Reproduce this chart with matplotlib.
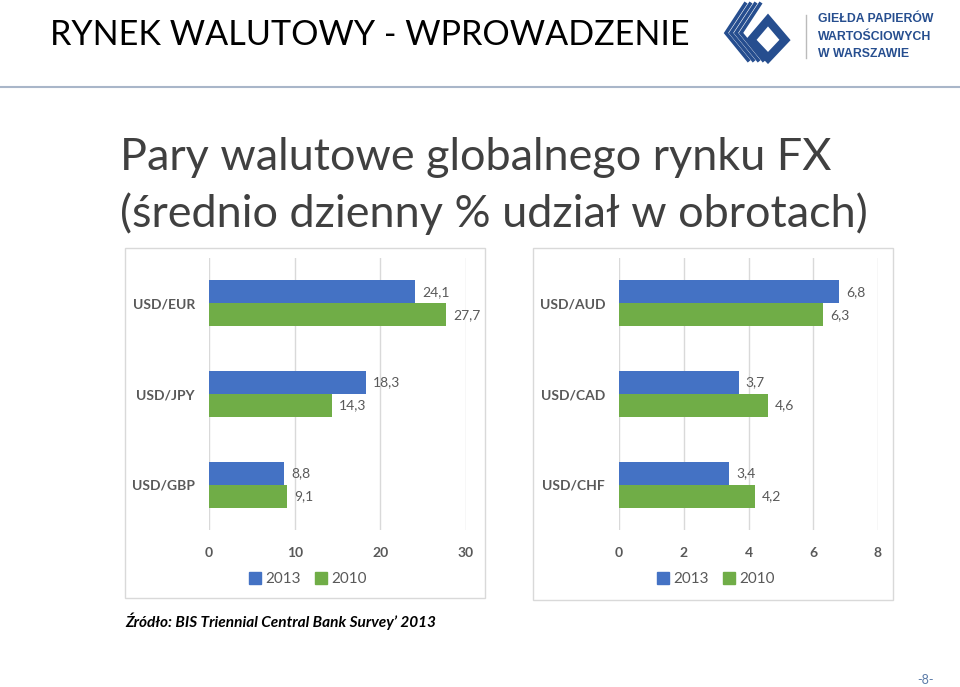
import numpy as np
import matplotlib.pyplot as plt
from matplotlib.patches import Rectangle, Polygon
from matplotlib.lines import Line2D

plt.rcParams['font.family'] = ['Lato', 'DejaVu Sans']

# Data
pairs_left = ['USD/EUR', 'USD/JPY', 'USD/GBP']
left_2013 = [24.1, 18.3, 8.8]
left_2010 = [27.7, 14.3, 9.1]

pairs_right = ['USD/AUD', 'USD/CAD', 'USD/CHF']
right_2013 = [6.8, 3.7, 3.4]
right_2010 = [6.3, 4.6, 4.2]

years = ['2013', '2010']
left_ticks = [0, 10, 20, 30]
right_ticks = [0, 2, 4, 6, 8]

BLUE = '#4472C4'
GREEN = '#70AD47'
GRAY = '#595959'
GRID = '#D9D9D9'

W, H = 960, 687


# Converts a pixel box to figure fraction coordinates.
def px_box(x0, y0, x1, y1):
    return [x0 / W, 1 - y1 / H, (x1 - x0) / W, (y1 - y0) / H]


def px(pts):
    return [(x / W, 1 - y / H) for x, y in pts]


def bar_panel(fig, box, frame, pairs, v2013, v2010, ticks, legend_x):
    # Light border around the chart.
    fig.add_artist(Rectangle((frame[0] / W, 1 - frame[3] / H),
                             (frame[2] - frame[0]) / W, (frame[3] - frame[1]) / H,
                             transform=fig.transFigure, fill=False,
                             edgecolor=GRID, linewidth=1))
    ax = fig.add_axes(px_box(*box))
    y = np.arange(len(pairs))
    h = 0.255
    ax.barh(y - h / 2, v2013, height=h, color=BLUE, label=years[0])
    ax.barh(y + h / 2, v2010, height=h, color=GREEN, label=years[1])
    for yy, a, b in zip(y, v2013, v2010):
        ax.annotate(f'{a:.1f}'.replace('.', ','), (a, yy - h / 2), xytext=(5, 0),
                    textcoords='offset points', va='center', ha='left',
                    fontsize=10, color=GRAY)
        ax.annotate(f'{b:.1f}'.replace('.', ','), (b, yy + h / 2), xytext=(5, 0),
                    textcoords='offset points', va='center', ha='left',
                    fontsize=10, color=GRAY)
    ax.set_xlim(ticks[0], ticks[-1])
    ax.set_ylim(len(pairs) - 0.5, -0.5)
    ax.set_xticks(ticks)
    ax.set_yticks(y)
    ax.set_yticklabels(pairs, fontweight='bold', color=GRAY, fontsize=10)
    ax.tick_params(axis='x', labelsize=10, labelcolor=GRAY, length=0, pad=12)
    ax.tick_params(axis='y', length=0, pad=10)
    for lab in ax.get_xticklabels():
        lab.set_fontweight('bold')
    ax.grid(axis='x', color=GRID, linewidth=1)
    ax.set_axisbelow(True)
    for s in ax.spines.values():
        s.set_visible(False)
    fig.legend(handles=[Rectangle((0, 0), 1, 1, color=BLUE),
                        Rectangle((0, 0), 1, 1, color=GREEN)],
               labels=years, loc='center', ncol=2, frameon=False,
               bbox_to_anchor=(legend_x / W, 1 - 579 / H),
               fontsize=11, labelcolor=GRAY, handlelength=0.8,
               handleheight=0.8, handletextpad=0.3, columnspacing=0.9)
    return ax


fig = plt.figure(figsize=(9.6, 6.87), dpi=100)

# Slide header
fig.text(50 / W, 1 - 35 / H, 'RYNEK WALUTOWY - WPROWADZENIE', fontsize=24.6,
         color='black', va='center', ha='left')
fig.add_artist(Line2D([0, 1], [1 - 87 / H, 1 - 87 / H], color='#A9B6C9',
                      linewidth=1.5, transform=fig.transFigure))

# Rough logo: striped chevron plus an outlined diamond
LOGO = '#264E8F'
for d in [0, 5, 10, 15]:
    chevron = [(745 + d, 4), (726 + d, 33), (748 + d, 60)]
    xs, ys = zip(*px(chevron))
    fig.add_artist(Line2D(xs, ys, color=LOGO, linewidth=2.6,
                          solid_joinstyle='miter', transform=fig.transFigure))
diamond = [(768, 20), (785, 40), (768, 58), (751, 40)]
fig.add_artist(Polygon(px(diamond), closed=True, fill=False, edgecolor=LOGO,
                       linewidth=6, joinstyle='miter', transform=fig.transFigure))
fig.add_artist(Line2D([806 / W, 806 / W], [1 - 15 / H, 1 - 58 / H],
                      color='#BBBBBB', linewidth=1, transform=fig.transFigure))
for i, line in enumerate(['GIEŁDA PAPIERÓW', 'WARTOŚCIOWYCH', 'W WARSZAWIE']):
    fig.text(818 / W, 1 - (19 + 17.5 * i) / H, line, fontsize=8.8,
             fontweight='bold', color=LOGO, va='center', ha='left',
             family=['Liberation Sans', 'DejaVu Sans'])

# Title
fig.text(120 / W, 1 - 158 / H, 'Pary walutowe globalnego rynku FX', fontsize=32.4,
         color='#404040', va='center', ha='left')
fig.text(120 / W, 1 - 214 / H, '(średnio dzienny % udział w obrotach)', fontsize=32.4,
         color='#404040', va='center', ha='left')

bar_panel(fig, (209, 258, 466, 530), (125, 248, 485, 598),
          pairs_left, left_2013, left_2010, left_ticks, 308)
bar_panel(fig, (619, 258, 878, 530), (533, 248, 893, 600),
          pairs_right, right_2013, right_2010, right_ticks, 716)

fig.text(125 / W, 1 - 621 / H, 'Źródło: BIS Triennial Central Bank Survey’ 2013',
         fontsize=11.1, fontstyle='italic', fontweight='bold', color='black',
         va='center', ha='left')
fig.text(917 / W, 1 - 680 / H, '-8-', fontsize=9, color='#5B7BA8',
         va='center', ha='left')

fig.savefig('out.png', dpi=100)
